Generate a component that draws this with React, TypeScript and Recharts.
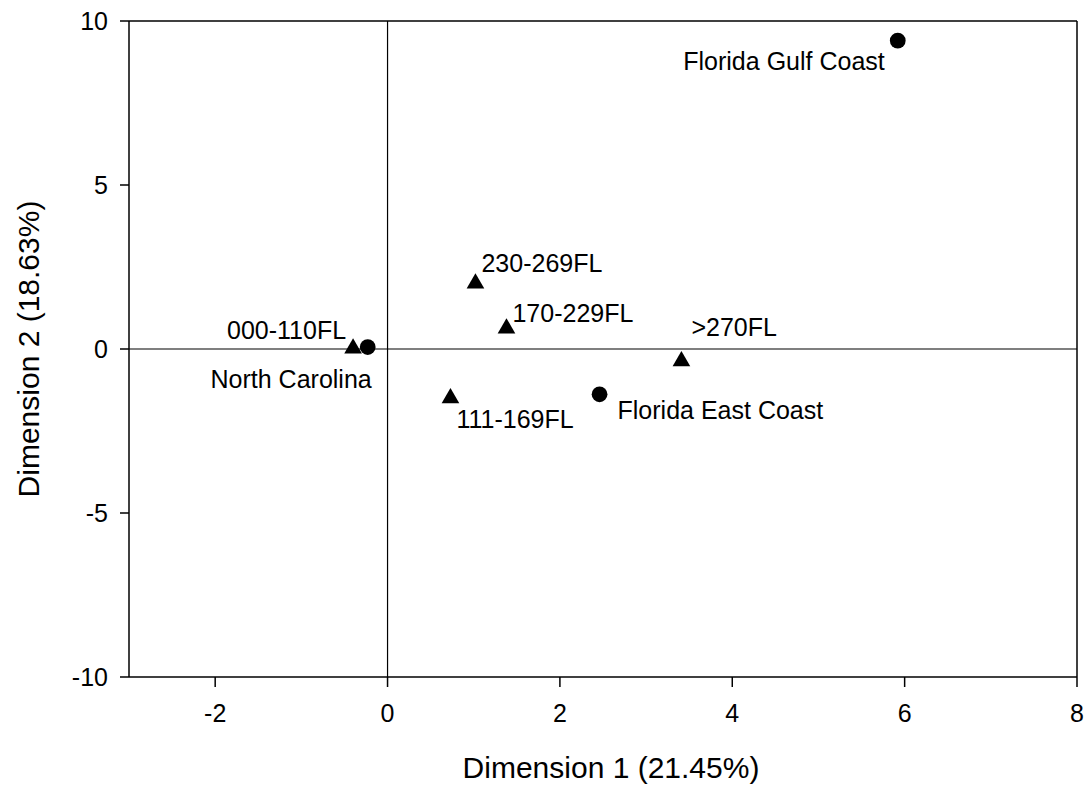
import { ScatterChart, Scatter, XAxis, YAxis, ReferenceLine, Symbols } from 'recharts';

// sites (circles)
const siteNames = ['Florida Gulf Coast', 'North Carolina', 'Florida East Coast'];
const siteDim1 = [5.92, -0.23, 2.46];
const siteDim2 = [9.4, 0.06, -1.38];

// size classes (triangles)
const sizeNames = ['000-110FL', '111-169FL', '170-229FL', '230-269FL', '>270FL'];
const sizeDim1 = [-0.4, 0.73, 1.38, 1.02, 3.41];
const sizeDim2 = [0.02, -1.5, 0.63, 2.0, -0.37];

const xTicks = [-2, 0, 2, 4, 6, 8];
const yTicks = [-10, -5, 0, 5, 10];

// where each point's text sits, relative to the marker (px)
const labelPlacement: Record<string, { dx: number; dy: number; anchor: 'start' | 'end' }> = {
  'Florida Gulf Coast': { dx: -13, dy: 20, anchor: 'end' },
  'North Carolina': { dx: 4, dy: 32, anchor: 'end' },
  'Florida East Coast': { dx: 18, dy: 16, anchor: 'start' },
  '000-110FL': { dx: -7, dy: -18, anchor: 'end' },
  '111-169FL': { dx: 6, dy: 21, anchor: 'start' },
  '170-229FL': { dx: 6, dy: -15, anchor: 'start' },
  '230-269FL': { dx: 6, dy: -20, anchor: 'start' },
  '>270FL': { dx: 10, dy: -34, anchor: 'start' },
};

const FONT = '"Liberation Sans", Arial, sans-serif';

const siteData = siteNames.map((name, i) => ({ name, x: siteDim1[i], y: siteDim2[i] }));
const sizeData = sizeNames.map((name, i) => ({ name, x: sizeDim1[i], y: sizeDim2[i] }));

const renderPoint = (type: 'circle' | 'triangle', size: number) => (props: any) => {
  const { cx, cy, payload } = props;
  const p = labelPlacement[payload.name];
  return (
    <g>
      <Symbols cx={cx} cy={cy} type={type} size={size} fill="#000" />
      <text x={cx + p.dx} y={cy + p.dy} dy="0.36em" textAnchor={p.anchor} fontSize={25} fontFamily={FONT} fill="#000">
        {payload.name}
      </text>
    </g>
  );
};

const tickStyle = { fontSize: 25, fontFamily: FONT, fill: '#000' };
const titleStyle = { fontSize: 30, fontFamily: FONT, fill: '#000' };

export default function App() {
  return (
    <div style={{ position: 'absolute', left: 0, top: 0, background: '#fff' }}>
      <ScatterChart width={1091} height={792} margin={{ top: 21, right: 14, left: 69, bottom: 55 }}>
        <XAxis
          type="number"
          dataKey="x"
          domain={[-3, 8]}
          ticks={xTicks}
          allowDataOverflow
          height={60}
          tickSize={10}
          tickMargin={17}
          tick={tickStyle}
          axisLine={{ stroke: '#000', strokeWidth: 1.5 }}
          tickLine={{ stroke: '#000', strokeWidth: 1.5 }}
          label={{ value: 'Dimension 1 (21.45%)', position: 'bottom', offset: 20, dx: 8, style: titleStyle }}
        />
        <YAxis
          type="number"
          dataKey="y"
          domain={[-10, 10]}
          ticks={yTicks}
          allowDataOverflow
          width={60}
          tickSize={9}
          tickMargin={12}
          tick={tickStyle}
          axisLine={{ stroke: '#000', strokeWidth: 1.5 }}
          tickLine={{ stroke: '#000', strokeWidth: 1.5 }}
          label={{ value: 'Dimension 2 (18.63%)', angle: -90, position: 'left', offset: 41, style: { ...titleStyle, textAnchor: 'middle' } }}
        />
        <ReferenceLine x={0} stroke="#000" strokeWidth={1.2} />
        <ReferenceLine y={0} stroke="#000" strokeWidth={1.2} />
        <ReferenceLine x={8} stroke="#000" strokeWidth={1.5} />
        <ReferenceLine y={10} stroke="#000" strokeWidth={1.5} />
        <Scatter data={sizeData} shape={renderPoint('triangle', 135)} isAnimationActive={false} />
        <Scatter data={siteData} shape={renderPoint('circle', 195)} isAnimationActive={false} />
      </ScatterChart>
    </div>
  );
}
